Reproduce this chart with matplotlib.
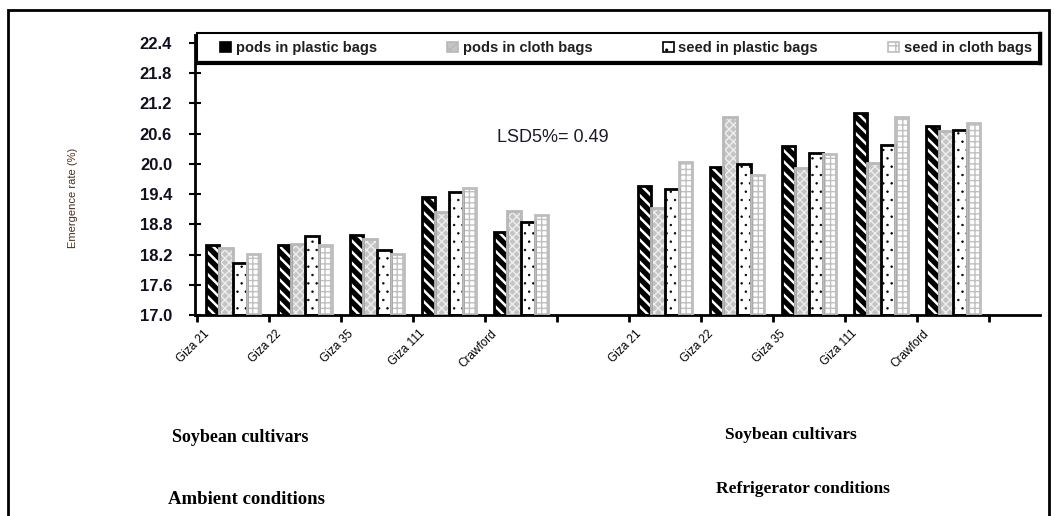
import numpy as np
import matplotlib
matplotlib.use("Agg")
from matplotlib import pyplot as plt
from matplotlib.patches import Rectangle, Patch
from matplotlib.transforms import ScaledTranslation

plt.rcParams['font.family'] = ['Liberation Sans', 'DejaVu Sans']

# data
cultivars = ["Giza 21", "Giza 22", "Giza 35", "Giza 111", "Crawford"]
series = ["pods in plastic bags", "pods in cloth bags", "seed in plastic bags", "seed in cloth bags"]
ambient = {
    "pods in plastic bags": [18.38, 18.38, 18.59, 19.35, 18.64],
    "pods in cloth bags":   [18.33, 18.41, 18.51, 19.04, 19.06],
    "seed in plastic bags": [18.03, 18.56, 18.30, 19.45, 18.84],
    "seed in cloth bags":   [18.21, 18.39, 18.21, 19.52, 18.98],
}
refrig = {
    "pods in plastic bags": [19.56, 19.93, 20.35, 21.01, 20.76],
    "pods in cloth bags":   [19.12, 20.94, 19.91, 20.02, 20.65],
    "seed in plastic bags": [19.51, 19.99, 20.22, 20.38, 20.68],
    "seed in cloth bags":   [20.03, 19.78, 20.20, 20.94, 20.82],
}
yticks = [17.0, 17.6, 18.2, 18.8, 19.4, 20.0, 20.6, 21.2, 21.8, 22.4]
lsd_text = "LSD5%= 0.49"

# fill colour, hatch colour, hatch, outline colour, hatch line width
styles = {
    "pods in plastic bags": ("black", "white", "\\\\\\", "black", 1.8),
    "pods in cloth bags":   ("#c4c4c4", "#eeeeee", "xxxx", "#b8b8b8", 1.0),
    "seed in plastic bags": ("white", "black", "..", "black", 0.5),
    "seed in cloth bags":   ("white", "#c0c0c0", "+++", "#bdbdbd", 1.0),
}

W, H = 1054, 516
fig = plt.figure(figsize=(W / 100, H / 100), dpi=100)

def fx(px):
    return px / W

def fy(py):
    return 1 - py / H

ax = fig.add_axes([fx(195), fy(315), fx(1040) - fx(195), fy(43) - fy(315)])

base = 17.0
w = 0.19
pos_amb = np.arange(5)
pos_ref = np.arange(6, 11)
for k, s in enumerate(series):
    fc, hc, hatch, ec, hlw = styles[s]
    plt.rcParams['hatch.linewidth'] = hlw
    off = (k - 1.5) * w
    for pos, vals in ((pos_amb, ambient[s]), (pos_ref, refrig[s])):
        h = np.array(vals) - base
        ax.bar(pos + off, h, w, bottom=base, color=fc, edgecolor=hc, hatch=hatch, linewidth=0, zorder=2)
        ax.bar(pos + off, h, w, bottom=base, fill=False, edgecolor=ec, linewidth=2, zorder=3)

ax.set_ylim(17.0, 22.4)
ax.set_xlim(-0.53, 11.21)
ax.set_yticks(yticks)
ax.set_yticklabels([f"{t:.1f}" for t in yticks], fontsize=12, fontweight='bold', color='#101020')
ax.tick_params(axis='y', direction='inout', length=9, width=1.5, pad=12)

ax.set_xticks(np.arange(-0.5, 11.0, 1.0), minor=True)
ax.tick_params(axis='x', which='minor', direction='out', length=5, width=2)
ax.set_xticks(list(pos_amb) + list(pos_ref))
ax.set_xticklabels(cultivars + cultivars, rotation=45, ha='right', rotation_mode='anchor', fontsize=8.5)
ax.tick_params(axis='x', which='major', length=0, pad=9)
for lbl in ax.get_xticklabels():
    lbl.set_transform(lbl.get_transform() + ScaledTranslation(-0.3, 0, fig.dpi_scale_trans))

for side in ('top', 'right'):
    ax.spines[side].set_visible(False)
ax.spines['left'].set_linewidth(2)
ax.spines['bottom'].set_linewidth(2)
ax.spines['left'].set_bounds(17.0, 22.55)

# legend across the top
plt.rcParams['hatch.linewidth'] = 1.0
handles = []
for s in series:
    fc, hc, hatch, ec, hlw = styles[s]
    handles.append(Patch(facecolor=fc, edgecolor=ec, hatch=hatch[:2], linewidth=1.2))
leg = fig.legend(handles, series, loc='center left',
                 bbox_to_anchor=(fx(216), fy(63), fx(1036) - fx(216), fy(33) - fy(63)),
                 mode='expand', ncol=4, fontsize=10.5, frameon=False,
                 handlelength=0.75, handleheight=0.75, handletextpad=0.3, borderaxespad=0,
                 borderpad=0.3)
for t in leg.get_texts():
    t.set_fontweight('bold')
    t.set_color('#202020')
fig.add_artist(Rectangle((fx(197), fy(62)), fx(1039) - fx(197), fy(33) - fy(62),
                         transform=fig.transFigure, fill=True, facecolor='white',
                         edgecolor='black', lw=1.5, zorder=0.5))
fig.add_artist(plt.Line2D([fx(197), fx(1040)], [fy(63), fy(63)], color='black', lw=3))
fig.add_artist(plt.Line2D([fx(1040), fx(1040)], [fy(33), fy(63)], color='black', lw=2.5))

ax.set_ylabel("Emergence rate (%)", fontsize=8, color='#4a3020')
ax.yaxis.set_label_coords(fx(78), fy(198), transform=fig.transFigure)

fig.text(fx(497), fy(138), lsd_text, fontsize=13, color='#1a1a2a', va='center', ha='left')

serif = ['Liberation Serif', 'DejaVu Serif']
fig.text(fx(172), fy(438), "Soybean cultivars", family=serif, fontweight='bold', fontsize=13, va='center')
fig.text(fx(168), fy(499), "Ambient conditions", family=serif, fontweight='bold', fontsize=13.5, va='center')
fig.text(fx(725), fy(435), "Soybean cultivars", family=serif, fontweight='bold', fontsize=12.5, va='center')
fig.text(fx(716), fy(489), "Refrigerator conditions", family=serif, fontweight='bold', fontsize=12.5, va='center')

# outer frame of the picture
fig.add_artist(Rectangle((fx(8), fy(530)), fx(1049) - fx(8), fy(10) - fy(530),
                         transform=fig.transFigure, fill=False, edgecolor='black', lw=2))

fig.savefig("out.png", dpi=100)
